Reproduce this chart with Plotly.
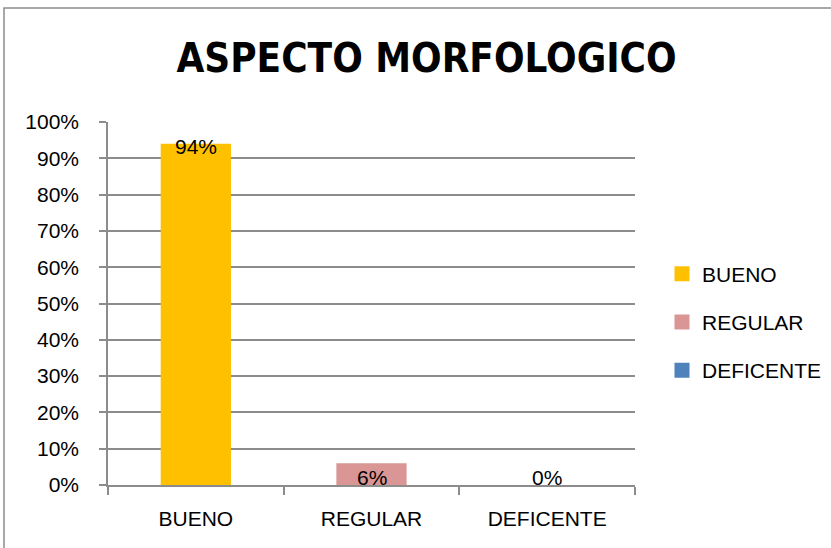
import plotly.graph_objects as go

categories = ["BUENO", "REGULAR", "DEFICENTE"]
values = [0.94, 0.06, 0.0]
labels = ["94%", "6%", "0%"]
colors = ["#FFC000", "#D99694", "#4F81BD"]
y_ticks = [i / 10 for i in range(11)]
y_tick_labels = [f"{i * 10}%" for i in range(11)]

W, H = 831, 548
L, R, T, B = 108, 196, 122, 63
pw, ph = W - L - R, H - T - B

BASE = "Liberation Sans, Arial, sans-serif"
GRID = "#8c8c8c"

fig = go.Figure()
for i, (c, v, col) in enumerate(zip(categories, values, colors)):
    fig.add_trace(go.Bar(
        x=[c], y=[v], name=c, marker=dict(color=col, line=dict(width=0)),
        width=0.4, legendgroup=f"g{i}", showlegend=False,
    ))
    fig.add_trace(go.Scatter(
        x=[None], y=[None], mode="markers", name=c, legendgroup=f"g{i}",
        marker=dict(symbol="square", size=15, color=col),
    ))

annotations = []
for c, v, t in zip(categories, values, labels):
    if v < 0.1:
        annotations.append(dict(x=c, y=0, text=t, showarrow=False, yanchor="middle",
                                yshift=8, font=dict(family=BASE, size=21, color="#000")))
    else:
        annotations.append(dict(x=c, y=v, text=t, showarrow=False, yanchor="middle",
                                yshift=-3, font=dict(family=BASE, size=21, color="#000")))

fig.update_layout(
    width=W, height=H,
    margin=dict(l=L, r=R, t=T, b=B, autoexpand=False),
    paper_bgcolor="white", plot_bgcolor="white",
    barmode="overlay",
    font=dict(family=BASE, size=21, color="#000"),
    title=dict(
        text="<b>ASPECTO MORFOLOGICO</b>",
        x=426.5 / W, xanchor="center", xref="container",
        y=1 - 58 / H, yanchor="middle", yref="container",
        font=dict(family="Liberation Sans Narrow, DejaVu Sans Condensed, Liberation Sans, sans-serif",
                  size=40, color="#000"),
    ),
    xaxis=dict(
        type="category", categoryorder="array", categoryarray=categories,
        range=[-0.5, 2.5], showline=True, linecolor=GRID, linewidth=1.5,
        ticks="outside", tickson="boundaries", ticklen=8, tickcolor=GRID, tickwidth=1.5,
        showgrid=False, tickfont=dict(family=BASE, size=21, color="#000"),
        ticklabelstandoff=14,
    ),
    yaxis=dict(
        range=[0, 1], tickvals=y_ticks, ticktext=y_tick_labels,
        showline=True, linecolor=GRID, linewidth=1.5,
        ticks="outside", ticklen=7, tickcolor=GRID, tickwidth=1.5,
        showgrid=True, gridcolor=GRID, gridwidth=1.5, zeroline=False,
        tickfont=dict(family=BASE, size=21, color="#000"),
        ticklabelstandoff=16,
    ),
    legend=dict(
        x=(662 - L) / pw, xanchor="left", y=(H - B - 322) / ph, yanchor="middle",
        font=dict(family=BASE, size=21, color="#000"),
        tracegroupgap=18, bgcolor="rgba(0,0,0,0)", itemsizing="trace",
    ),
    annotations=annotations,
    shapes=[dict(
        type="rect", xref="paper", yref="paper",
        x0=(4 - L) / pw, x1=(W + 20 - L) / pw,
        y0=-(B + 20) / ph, y1=1 + (T - 8) / ph,
        line=dict(color=GRID, width=1.5), fillcolor="rgba(0,0,0,0)", layer="below",
    )],
)

fig.write_html("out.html", config={"displayModeBar": False},
               post_script="document.body.style.margin='0';document.body.style.overflow='hidden';")
